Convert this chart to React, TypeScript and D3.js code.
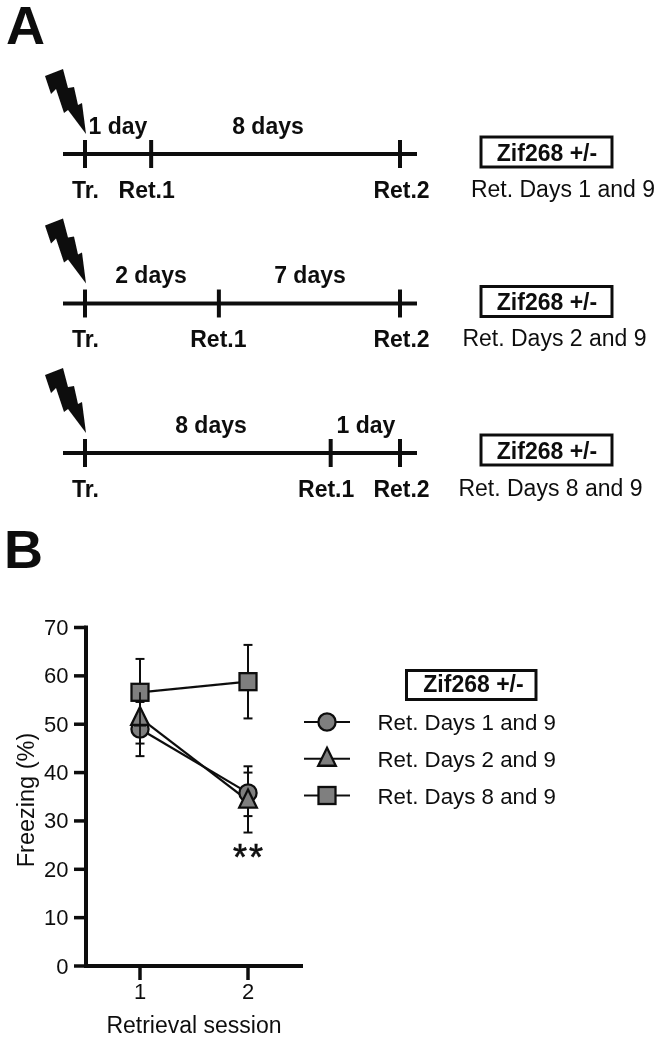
import React from "react";
import * as d3 from "d3";

const sessions = [1, 2];
const yTicks = [0, 10, 20, 30, 40, 50, 60, 70];
const seriesNames = ["Ret. Days 1 and 9", "Ret. Days 2 and 9", "Ret. Days 8 and 9"];
const seriesShapes = ["circle", "triangle", "square"];
const meansCircle = [49, 35.8];
const lowCircle = [43.4, 31];
const highCircle = [54.6, 41.3];
const meansTriangle = [51.3, 34.2];
const lowTriangle = [46, 27.6];
const highTriangle = [56.6, 40];
const meansSquare = [56.6, 58.8];
const lowSquare = [49.7, 51.2];
const highSquare = [63.5, 66.4];

const timelineRet1 = [0.21, 0.425, 0.78];
const spanLabels = [
  ["1 day", "8 days"],
  ["2 days", "7 days"],
  ["8 days", "1 day"],
];
const rowTexts = ["Ret. Days 1 and 9", "Ret. Days 2 and 9", "Ret. Days 8 and 9"];

const INK = "#111";
const GREY = "#7f7f7f";
const SANS = "'Liberation Sans', Arial, sans-serif";

const x = d3.scaleLinear().domain([1, 2]).range([140, 248]);
const y = d3.scaleLinear().domain([0, 70]).range([966, 627.5]);
const tx = d3.scaleLinear().domain([0, 1]).range([85, 400]);
const rowY = d3.scaleLinear().domain([0, 2]).range([154, 453]);

const BOLT = "M-40,-78 L-22,-85 L-17,-66 L-11,-67 L-7,-49 L-3,-51 L1,-20 L-17,-44 L-21,-41 L-29,-65 L-34,-60 Z";

function Marker({ shape, cx, cy }: { shape: string; cx: number; cy: number }) {
  const common = { fill: GREY, stroke: INK, strokeWidth: 2.3 };
  if (shape === "circle") return <circle cx={cx} cy={cy} r={8.6} {...common} />;
  if (shape === "square") return <rect x={cx - 8.5} y={cy - 8.5} width={17} height={17} {...common} />;
  const path = `M${cx},${cy - 11} L${cx + 8.8},${cy + 7} L${cx - 8.8},${cy + 7} Z`;
  return <path d={path} {...common} strokeLinejoin="miter" />;
}

function Timeline({ i }: { i: number }) {
  const cy = rowY(i);
  const r1 = tx(timelineRet1[i]);
  const [a, b] = spanLabels[i];
  const t = (s: string, px: number, py: number) => (
    <text x={px} y={py} textAnchor="middle" fontSize={23} fontWeight="bold" fill={INK}>{s}</text>
  );
  const boxX = 481;
  const boxDy = [0, 0, -1][i];
  return (
    <g>
      <path d={BOLT} transform={`translate(${tx(0)},${cy})`} fill={INK} />
      <line x1={63} x2={417} y1={cy} y2={cy} stroke={INK} strokeWidth={4} />
      {[0, timelineRet1[i], 1].map((f, k) => (
        <line key={k} x1={tx(f)} x2={tx(f)} y1={cy - 14} y2={cy + 14} stroke={INK} strokeWidth={4} />
      ))}
      {t("Tr.", tx(0) + 0.5, cy + 43.5)}
      {t("Ret.1", r1 - [4.5, 0.5, 4.5][i], cy + 43.5)}
      {t("Ret.2", tx(1) + 1.5, cy + 43.5)}
      {t(a, [118, 151, 211][i], cy - 20.5)}
      {t(b, [268, 310, 366][i], cy - 20.5)}
      <rect x={boxX} y={cy - 17 + boxDy} width={131} height={30} fill="#fff" stroke={INK} strokeWidth={3} />
      {t("Zif268 +/-", boxX + 66, cy + 6.5 + boxDy)}
      <text x={[563, 554.5, 550.5][i]} y={cy + 42.5} textAnchor="middle" fontSize={23} fill={INK}>{rowTexts[i]}</text>
    </g>
  );
}

export default function App() {
  const series = [
    { means: meansCircle, low: lowCircle, high: highCircle },
    { means: meansTriangle, low: lowTriangle, high: highTriangle },
    { means: meansSquare, low: lowSquare, high: highSquare },
  ];
  const line = d3
    .line<number>()
    .x((_, i) => x(sessions[i]))
    .y((d) => y(d));
  const legendY = d3.scaleLinear().domain([0, 2]).range([722, 795.5]);
  const bottom = y(0);

  return (
    <svg
      width={662}
      height={1041}
      viewBox="0 0 662 1041"
      style={{ position: "absolute", left: 0, top: 0, background: "#fff" }}
      fontFamily={SANS}
    >
      <defs>
        <filter id="soft" x="-2%" y="-2%" width="104%" height="104%">
          <feGaussianBlur stdDeviation={0.45} />
        </filter>
      </defs>
      <g filter="url(#soft)">
        <text x={6} y={44} fontSize={54} fontWeight="bold" fill={INK}>A</text>
        <text x={4} y={568} fontSize={54} fontWeight="bold" fill={INK}>B</text>

        {[0, 1, 2].map((i) => <Timeline key={i} i={i} />)}

        {/* axes */}
        <line x1={86} x2={86} y1={y(70) - 2} y2={bottom + 2} stroke={INK} strokeWidth={4} />
        <line x1={84} x2={303} y1={bottom} y2={bottom} stroke={INK} strokeWidth={4} />
        {yTicks.map((v) => (
          <g key={v}>
            <line x1={74} x2={86} y1={y(v)} y2={y(v)} stroke={INK} strokeWidth={3.5} />
            <text x={68.5} y={y(v) + 7.5} textAnchor="end" fontSize={22} fill={INK}>{v}</text>
          </g>
        ))}
        {sessions.map((s) => (
          <g key={s}>
            <line x1={x(s)} x2={x(s)} y1={bottom} y2={bottom + 14} stroke={INK} strokeWidth={3.5} />
            <text x={x(s)} y={bottom + 33} textAnchor="middle" fontSize={22} fill={INK}>{s}</text>
          </g>
        ))}
        <text x={194} y={1033} textAnchor="middle" fontSize={23} fill={INK}>Retrieval session</text>
        <text transform="translate(34,800) rotate(-90)" textAnchor="middle" fontSize={23.5} fill={INK}>Freezing (%)</text>

        {/* error bars, lines, markers */}
        {series.map((s, k) => (
          <g key={k}>
            {sessions.map((sv, i) => (
              <g key={sv} stroke={INK} strokeWidth={2}>
                <line x1={x(sv)} x2={x(sv)} y1={y(s.low[i])} y2={y(s.high[i])} />
                <line x1={x(sv) - 4.5} x2={x(sv) + 4.5} y1={y(s.low[i])} y2={y(s.low[i])} />
                <line x1={x(sv) - 4.5} x2={x(sv) + 4.5} y1={y(s.high[i])} y2={y(s.high[i])} />
              </g>
            ))}
          </g>
        ))}
        {series.map((s, k) => (
          <path key={k} d={line(s.means) ?? ""} fill="none" stroke={INK} strokeWidth={2.3} />
        ))}
        {series.map((s, k) => (
          <g key={k}>
            {sessions.map((sv, i) => (
              <Marker key={sv} shape={seriesShapes[k]} cx={x(sv)} cy={y(s.means[i])} />
            ))}
          </g>
        ))}
        {/* error bars visible through the markers */}
        {series.slice(1, 2).map((s, k) => (
          <line key={k} x1={x(1)} x2={x(1)} y1={y(s.high[0])} y2={y(s.low[0])} stroke={INK} strokeWidth={1.8} />
        ))}
        <line x1={x(1) - 6} x2={x(1) + 6} y1={y(lowSquare[0])} y2={y(lowSquare[0])} stroke={INK} strokeWidth={1.8} />
        <text x={249} y={870} textAnchor="middle" fontSize={36} letterSpacing={2} fill={INK} stroke={INK} strokeWidth={0.6}>**</text>

        {/* legend */}
        <rect x={406.5} y={670.5} width={129.5} height={29} fill="#fff" stroke={INK} strokeWidth={3} />
        <text x={473.5} y={692} textAnchor="middle" fontSize={23} fontWeight="bold" fill={INK}>Zif268 +/-</text>
        {seriesNames.map((n, k) => (
          <g key={n}>
            <line x1={304} x2={350} y1={legendY(k)} y2={legendY(k)} stroke={INK} strokeWidth={2.2} />
            <Marker shape={seriesShapes[k]} cx={327} cy={legendY(k)} />
            <text x={377.5} y={legendY(k) + 8} fontSize={22.3} fill={INK}>{n}</text>
          </g>
        ))}
      </g>
    </svg>
  );
}
